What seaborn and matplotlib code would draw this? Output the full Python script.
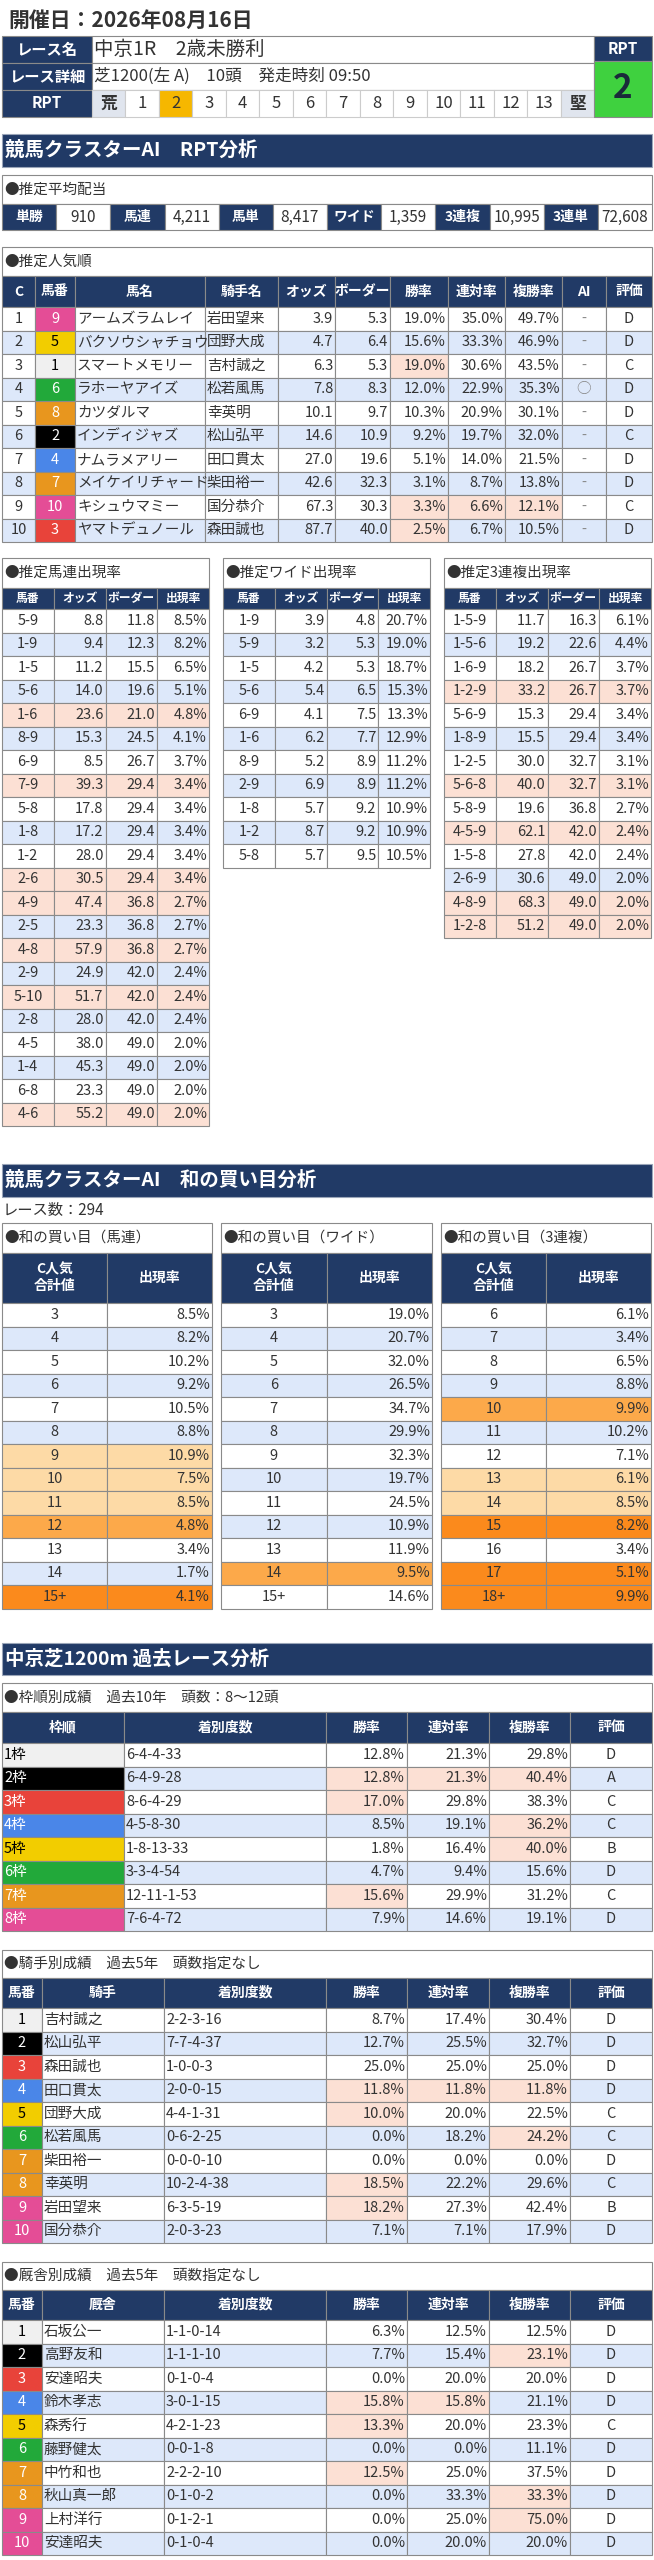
import numpy as np
import matplotlib
matplotlib.use("Agg")
import matplotlib.pyplot as plt
from matplotlib.patches import Rectangle
import seaborn as sns

sns.set_theme(style="white")
plt.rcParams['font.family'] = ['Noto Sans CJK JP', 'DejaVu Sans']

# ==== data ====
race_date = "開催日：2026年08月16日"
race_name = "中京1R　2歳未勝利"
race_detail = "芝1200(左 A)　10頭　発走時刻 09:50"
rpt_value = 2
rpt_scale = ["荒", "1", "2", "3", "4", "5", "6", "7", "8", "9", "10", "11", "12", "13", "堅"]

payout_labels = ["単勝", "馬連", "馬単", "ワイド", "3連複", "3連単"]
payout_values = ["910", "4,211", "8,417", "1,359", "10,995", "72,608"]

pop_rank = [1, 2, 3, 4, 5, 6, 7, 8, 9, 10]
pop_num = [9, 5, 1, 6, 8, 2, 4, 7, 10, 3]
pop_name = ["アームズラムレイ", "バクソウシャチョウ", "スマートメモリー", "ラホーヤアイズ", "カツダルマ",
            "インディジャズ", "ナムラメアリー", "メイケイリチャード", "キシュウマミー", "ヤマトデュノール"]
pop_jockey = ["岩田望来", "団野大成", "吉村誠之", "松若風馬", "幸英明", "松山弘平", "田口貫太", "柴田裕一", "国分恭介", "森田誠也"]
pop_odds = [3.9, 4.7, 6.3, 7.8, 10.1, 14.6, 27.0, 42.6, 67.3, 87.7]
pop_border = [5.3, 6.4, 5.3, 8.3, 9.7, 10.9, 19.6, 32.3, 30.3, 40.0]
pop_win = [19.0, 15.6, 19.0, 12.0, 10.3, 9.2, 5.1, 3.1, 3.3, 2.5]
pop_ren = [35.0, 33.3, 30.6, 22.9, 20.9, 19.7, 14.0, 8.7, 6.6, 6.7]
pop_fuku = [49.7, 46.9, 43.5, 35.3, 30.1, 32.0, 21.5, 13.8, 12.1, 10.5]
pop_ai = ["-", "-", "-", "○", "-", "-", "-", "-", "-", "-"]
pop_eval = ["D", "D", "C", "D", "D", "C", "D", "D", "C", "D"]
pop_hl = ["", "", "W", "", "", "", "", "", "WRF", "W"]

umaren_combo = ["5-9", "1-9", "1-5", "5-6", "1-6", "8-9", "6-9", "7-9", "5-8", "1-8", "1-2", "2-6",
                "4-9", "2-5", "4-8", "2-9", "5-10", "2-8", "4-5", "1-4", "6-8", "4-6"]
umaren_odds = [8.8, 9.4, 11.2, 14.0, 23.6, 15.3, 8.5, 39.3, 17.8, 17.2, 28.0, 30.5,
               47.4, 23.3, 57.9, 24.9, 51.7, 28.0, 38.0, 45.3, 23.3, 55.2]
umaren_border = [11.8, 12.3, 15.5, 19.6, 21.0, 24.5, 26.7, 29.4, 29.4, 29.4, 29.4, 29.4,
                 36.8, 36.8, 36.8, 42.0, 42.0, 42.0, 49.0, 49.0, 49.0, 49.0]
umaren_rate = [8.5, 8.2, 6.5, 5.1, 4.8, 4.1, 3.7, 3.4, 3.4, 3.4, 3.4, 3.4,
               2.7, 2.7, 2.7, 2.4, 2.4, 2.4, 2.0, 2.0, 2.0, 2.0]
umaren_hl = [0, 0, 0, 0, 1, 0, 0, 1, 0, 0, 0, 1, 1, 0, 1, 0, 1, 0, 0, 0, 0, 1]

wide_combo = ["1-9", "5-9", "1-5", "5-6", "6-9", "1-6", "8-9", "2-9", "1-8", "1-2", "5-8"]
wide_odds = [3.9, 3.2, 4.2, 5.4, 4.1, 6.2, 5.2, 6.9, 5.7, 8.7, 5.7]
wide_border = [4.8, 5.3, 5.3, 6.5, 7.5, 7.7, 8.9, 8.9, 9.2, 9.2, 9.5]
wide_rate = [20.7, 19.0, 18.7, 15.3, 13.3, 12.9, 11.2, 11.2, 10.9, 10.9, 10.5]
wide_hl = [0] * 11

trio_combo = ["1-5-9", "1-5-6", "1-6-9", "1-2-9", "5-6-9", "1-8-9", "1-2-5", "5-6-8", "5-8-9",
              "4-5-9", "1-5-8", "2-6-9", "4-8-9", "1-2-8"]
trio_odds = [11.7, 19.2, 18.2, 33.2, 15.3, 15.5, 30.0, 40.0, 19.6, 62.1, 27.8, 30.6, 68.3, 51.2]
trio_border = [16.3, 22.6, 26.7, 26.7, 29.4, 29.4, 32.7, 32.7, 36.8, 42.0, 42.0, 49.0, 49.0, 49.0]
trio_rate = [6.1, 4.4, 3.7, 3.7, 3.4, 3.4, 3.1, 3.1, 2.7, 2.4, 2.4, 2.0, 2.0, 2.0]
trio_hl = [0, 0, 0, 1, 0, 0, 0, 1, 0, 1, 0, 0, 1, 1]

race_count = "レース数：294"
sum_umaren_key = ["3", "4", "5", "6", "7", "8", "9", "10", "11", "12", "13", "14", "15+"]
sum_umaren_rate = [8.5, 8.2, 10.2, 9.2, 10.5, 8.8, 10.9, 7.5, 8.5, 4.8, 3.4, 1.7, 4.1]
sum_umaren_lvl = [0, 0, 0, 0, 0, 0, 1, 1, 1, 2, 0, 0, 3]
sum_wide_key = ["3", "4", "5", "6", "7", "8", "9", "10", "11", "12", "13", "14", "15+"]
sum_wide_rate = [19.0, 20.7, 32.0, 26.5, 34.7, 29.9, 32.3, 19.7, 24.5, 10.9, 11.9, 9.5, 14.6]
sum_wide_lvl = [0, 0, 0, 0, 0, 0, 0, 0, 0, 0, 0, 2, 0]
sum_trio_key = ["6", "7", "8", "9", "10", "11", "12", "13", "14", "15", "16", "17", "18+"]
sum_trio_rate = [6.1, 3.4, 6.5, 8.8, 9.9, 10.2, 7.1, 6.1, 8.5, 8.2, 3.4, 5.1, 9.9]
sum_trio_lvl = [0, 0, 0, 0, 2, 0, 0, 1, 1, 3, 0, 3, 3]

course_title = "中京芝1200m 過去レース分析"
gate_label = ["1枠", "2枠", "3枠", "4枠", "5枠", "6枠", "7枠", "8枠"]
gate_record = ["6-4-4-33", "6-4-9-28", "8-6-4-29", "4-5-8-30", "1-8-13-33", "3-3-4-54", "12-11-1-53", "7-6-4-72"]
gate_win = [12.8, 12.8, 17.0, 8.5, 1.8, 4.7, 15.6, 7.9]
gate_ren = [21.3, 21.3, 29.8, 19.1, 16.4, 9.4, 29.9, 14.6]
gate_fuku = [29.8, 40.4, 38.3, 36.2, 40.0, 15.6, 31.2, 19.1]
gate_eval = ["D", "A", "C", "C", "B", "D", "C", "D"]
gate_hl = ["", "WRF", "W", "F", "F", "", "W", ""]

jk_num = [1, 2, 3, 4, 5, 6, 7, 8, 9, 10]
jk_name = ["吉村誠之", "松山弘平", "森田誠也", "田口貫太", "団野大成", "松若風馬", "柴田裕一", "幸英明", "岩田望来", "国分恭介"]
jk_record = ["2-2-3-16", "7-7-4-37", "1-0-0-3", "2-0-0-15", "4-4-1-31", "0-6-2-25", "0-0-0-10", "10-2-4-38", "6-3-5-19", "2-0-3-23"]
jk_win = [8.7, 12.7, 25.0, 11.8, 10.0, 0.0, 0.0, 18.5, 18.2, 7.1]
jk_ren = [17.4, 25.5, 25.0, 11.8, 20.0, 18.2, 0.0, 22.2, 27.3, 7.1]
jk_fuku = [30.4, 32.7, 25.0, 11.8, 22.5, 24.2, 0.0, 29.6, 42.4, 17.9]
jk_eval = ["D", "D", "D", "D", "C", "C", "D", "C", "B", "D"]
jk_hl = ["", "", "", "WRF", "W", "F", "", "W", "W", ""]

st_num = [1, 2, 3, 4, 5, 6, 7, 8, 9, 10]
st_name = ["石坂公一", "高野友和", "安達昭夫", "鈴木孝志", "森秀行", "藤野健太", "中竹和也", "秋山真一郎", "上村洋行", "安達昭夫"]
st_record = ["1-1-0-14", "1-1-1-10", "0-1-0-4", "3-0-1-15", "4-2-1-23", "0-0-1-8", "2-2-2-10", "0-1-0-2", "0-1-2-1", "0-1-0-4"]
st_win = [6.3, 7.7, 0.0, 15.8, 13.3, 0.0, 12.5, 0.0, 0.0, 0.0]
st_ren = [12.5, 15.4, 20.0, 15.8, 20.0, 0.0, 25.0, 33.3, 25.0, 20.0]
st_fuku = [12.5, 23.1, 20.0, 21.1, 23.3, 11.1, 37.5, 33.3, 75.0, 20.0]
st_eval = ["D", "D", "D", "D", "C", "D", "D", "D", "D", "D"]
st_hl = ["", "F", "", "WR", "W", "", "W", "F", "F", ""]

# ==== style ====
NAVY = "#213a66"
BLUE = "#dde8fa"
PEACH = "#fce0d4"
GRID = "#8a8a8a"
TXT = "#333333"
LVL = ["white", "#fddaa6", "#fca94a", "#fb8a1c"]
FRAME = {1: ("#f0f0f0", "black"), 2: ("black", "white"), 3: ("#e8433a", "white"), 4: ("#4a86e8", "white"),
         5: ("#f2cd00", "black"), 6: ("#22a93a", "white"), 7: ("#e8961e", "white"), 8: ("#e44d96", "white")}


def frame_of(num):
    # 10 horses: 1-8 one per frame except 7,8 / 9,10 share
    return {1: 1, 2: 2, 3: 3, 4: 4, 5: 5, 6: 6, 7: 7, 8: 7, 9: 8, 10: 8}[num]


fig = plt.figure(figsize=(6.54, 25.6), dpi=100)
ax = fig.add_axes([0, 0, 1, 1])
ax.set_xlim(0, 654)
ax.set_ylim(2560, 0)
ax.axis("off")


def cell(x0, x1, y0, y1, fc="white", text="", tc=TXT, ha="center", fs=9, bold=False, ec=GRID):
    ax.add_patch(Rectangle((x0, y0), x1 - x0, y1 - y0, fc=fc, ec=ec, lw=0.8))
    if text != "":
        if ha == "center":
            tx = (x0 + x1) / 2
        elif ha == "right":
            tx = x1 - 2
        else:
            tx = x0 + 2
        ax.text(tx, (y0 + y1) / 2, text, ha=ha, va="center", fontsize=fs, color=tc,
                fontweight="bold" if bold else "normal")


def banner(y0, y1, text):
    ax.add_patch(Rectangle((2, y0), 650, y1 - y0, fc=NAVY, ec="#9aa5b8", lw=0.8))
    ax.text(5, (y0 + y1) / 2, text, ha="left", va="center", fontsize=14, color="white", fontweight="bold")


def box_title(x0, x1, y0, y1, text):
    cell(x0, x1, y0, y1, "white", "●" + text, ha="left", fs=10.5, ec="#8a8a8a")


def pct(v):
    return f"{v:.1f}%"


# ==== header ====
ax.text(8, 20, race_date, ha="left", va="center", fontsize=15, fontweight="bold", color=TXT)
for (y0, y1), lab in zip([(36, 63), (63, 90), (90, 117)], ["レース名", "レース詳細", "RPT"]):
    cell(2, 92, y0, y1, NAVY, lab, "white", fs=11, bold=True)
cell(92, 594, 36, 63, "white", race_name, ha="left", fs=14)
cell(92, 594, 63, 90, "white", race_detail, ha="left", fs=12)
xs = np.linspace(92, 594, len(rpt_scale) + 1)
for i, lab in enumerate(rpt_scale):
    fc = "#e0e5ee" if lab in ("荒", "堅") else ("#f6b700" if lab == str(rpt_value) else "white")
    cell(xs[i], xs[i + 1], 90, 117, fc, lab, TXT, fs=12, bold=lab in ("荒", "堅"),
         ec="#cccccc")
cell(594, 652, 36, 61, NAVY, "RPT", "white", fs=11, bold=True)
cell(594, 652, 61, 117, "#3fd13f", str(rpt_value), "#1a2a3a", fs=24, bold=True)

# ==== RPT analysis ====
banner(134, 167, "競馬クラスターAI　RPT分析")
box_title(2, 652, 175, 204, "推定平均配当")
px = np.linspace(2, 652, 13)
for i in range(6):
    cell(px[2 * i], px[2 * i + 1], 204, 230, NAVY, payout_labels[i], "white", fs=10, bold=True)
    cell(px[2 * i + 1], px[2 * i + 2], 204, 230, "white", payout_values[i], TXT, fs=11)

box_title(2, 652, 247, 276, "推定人気順")
cols = [2, 35, 75, 205, 278, 335, 390, 448, 505, 562, 606, 652]
heads = ["C", "馬番", "馬名", "騎手名", "オッズ", "ボーダー", "勝率", "連対率", "複勝率", "AI", "評価"]
for i, h in enumerate(heads):
    cell(cols[i], cols[i + 1], 276, 307, NAVY, h, "white", fs=10, bold=True)
RH = 23.5
for r in range(len(pop_rank)):
    y0, y1 = 307 + r * RH, 307 + (r + 1) * RH
    bg = BLUE if r % 2 else "white"
    fcol, tcol = FRAME[frame_of(pop_num[r])]
    vals = [str(pop_rank[r]), str(pop_num[r]), pop_name[r], pop_jockey[r], f"{pop_odds[r]:.1f}",
            f"{pop_border[r]:.1f}", pct(pop_win[r]), pct(pop_ren[r]), pct(pop_fuku[r]), pop_ai[r], pop_eval[r]]
    for c, v in enumerate(vals):
        fc, tc, ha = bg, TXT, "center"
        if c == 1:
            fc, tc = fcol, tcol
        if c in (2, 3):
            ha = "left"
        if 4 <= c <= 8:
            ha = "right"
        if (c == 6 and "W" in pop_hl[r]) or (c == 7 and "R" in pop_hl[r]) or (c == 8 and "F" in pop_hl[r]):
            fc = PEACH
        if c == 9:
            tc = "#888888"
        cell(cols[c], cols[c + 1], y0, y1, fc, v, tc, ha=ha, fs=10.5)


def odds_table(x0, x1, title, combo, odds, border, rate, hl):
    box_title(x0, x1, 558, 588, title)
    xx = np.linspace(x0, x1, 5)
    for i, h in enumerate(["馬番", "オッズ", "ボーダー", "出現率"]):
        cell(xx[i], xx[i + 1], 588, 609, NAVY, h, "white", fs=8.5, bold=True)
    for r in range(len(combo)):
        y0, y1 = 609 + r * RH, 609 + (r + 1) * RH
        bg = PEACH if hl[r] else (BLUE if r % 2 else "white")
        vals = [combo[r], f"{odds[r]:.1f}", f"{border[r]:.1f}", pct(rate[r])]
        for c, v in enumerate(vals):
            cell(xx[c], xx[c + 1], y0, y1, bg, v, TXT, ha="center" if c == 0 else "right", fs=10.5)


odds_table(2, 209, "推定馬連出現率", umaren_combo, umaren_odds, umaren_border, umaren_rate, umaren_hl)
odds_table(223, 430, "推定ワイド出現率", wide_combo, wide_odds, wide_border, wide_rate, wide_hl)
odds_table(444, 651, "推定3連複出現率", trio_combo, trio_odds, trio_border, trio_rate, trio_hl)

# ==== sum analysis ====
banner(1164, 1197, "競馬クラスターAI　和の買い目分析")
ax.text(3, 1211, race_count, ha="left", va="center", fontsize=11, color=TXT)


def sum_table(x0, x1, title, keys, rates, lvl):
    box_title(x0, x1, 1223, 1253, title)
    xm = (x0 + x1) / 2
    cell(x0, xm, 1253, 1303, NAVY, "C人気\n合計値", "white", fs=10, bold=True)
    cell(xm, x1, 1253, 1303, NAVY, "出現率", "white", fs=10, bold=True)
    for r in range(len(keys)):
        y0, y1 = 1303 + r * RH, 1303 + (r + 1) * RH
        bg = LVL[lvl[r]] if lvl[r] else (BLUE if r % 2 else "white")
        cell(x0, xm, y0, y1, bg, keys[r], TXT, fs=10.5)
        cell(xm, x1, y0, y1, bg, pct(rates[r]), TXT, ha="right", fs=10.5)


sum_table(2, 212, "和の買い目（馬連）", sum_umaren_key, sum_umaren_rate, sum_umaren_lvl)
sum_table(221, 432, "和の買い目（ワイド）", sum_wide_key, sum_wide_rate, sum_wide_lvl)
sum_table(441, 651, "和の買い目（3連複）", sum_trio_key, sum_trio_rate, sum_trio_lvl)

# ==== course analysis ====
banner(1643, 1675, course_title)
rcols = [326, 407, 489, 570, 652]


def rate_cells(r, y0, y1, bg, win, ren, fuku, ev, hl):
    for c, (v, k) in enumerate(zip([win, ren, fuku], "WRF")):
        cell(rcols[c], rcols[c + 1], y0, y1, PEACH if k in hl else bg, pct(v), TXT, ha="right", fs=10.5)
    cell(rcols[3], rcols[4], y0, y1, bg, ev, TXT, fs=10.5)


box_title(2, 652, 1683, 1712, "枠順別成績　過去10年　頭数：8～12頭")
for (a, b), h in zip([(2, 124), (124, 326), (326, 407), (407, 489), (489, 570), (570, 652)],
                     ["枠順", "着別度数", "勝率", "連対率", "複勝率", "評価"]):
    cell(a, b, 1712, 1743, NAVY, h, "white", fs=10, bold=True)
for r in range(len(gate_label)):
    y0, y1 = 1743 + r * RH, 1743 + (r + 1) * RH
    bg = BLUE if r % 2 else "white"
    fcol, tcol = FRAME[r + 1]
    cell(2, 124, y0, y1, fcol, gate_label[r], tcol, ha="left", fs=10.5)
    cell(124, 326, y0, y1, bg, gate_record[r], TXT, ha="left", fs=10.5)
    rate_cells(r, y0, y1, bg, gate_win[r], gate_ren[r], gate_fuku[r], gate_eval[r], gate_hl[r])


def person_table(ty, title, nm_head, nums, names, recs, win, ren, fuku, ev, hl):
    box_title(2, 652, ty, ty + 28, title)
    hy = ty + 28
    for (a, b), h in zip([(2, 42), (42, 164), (164, 326), (326, 407), (407, 489), (489, 570), (570, 652)],
                         ["馬番", nm_head, "着別度数", "勝率", "連対率", "複勝率", "評価"]):
        cell(a, b, hy, hy + 30, NAVY, h, "white", fs=10, bold=True)
    for r in range(len(nums)):
        y0, y1 = hy + 30 + r * RH, hy + 30 + (r + 1) * RH
        bg = BLUE if r % 2 else "white"
        fcol, tcol = FRAME[frame_of(nums[r])]
        cell(2, 42, y0, y1, fcol, str(nums[r]), tcol, fs=10.5)
        cell(42, 164, y0, y1, bg, names[r], TXT, ha="left", fs=10.5)
        cell(164, 326, y0, y1, bg, recs[r], TXT, ha="left", fs=10.5)
        rate_cells(r, y0, y1, bg, win[r], ren[r], fuku[r], ev[r], hl[r])


person_table(1950, "騎手別成績　過去5年　頭数指定なし", "騎手", jk_num, jk_name, jk_record,
             jk_win, jk_ren, jk_fuku, jk_eval, jk_hl)
person_table(2262, "厩舎別成績　過去5年　頭数指定なし", "厩舎", st_num, st_name, st_record,
             st_win, st_ren, st_fuku, st_eval, st_hl)

fig.savefig("out.png", dpi=100, facecolor="white")
